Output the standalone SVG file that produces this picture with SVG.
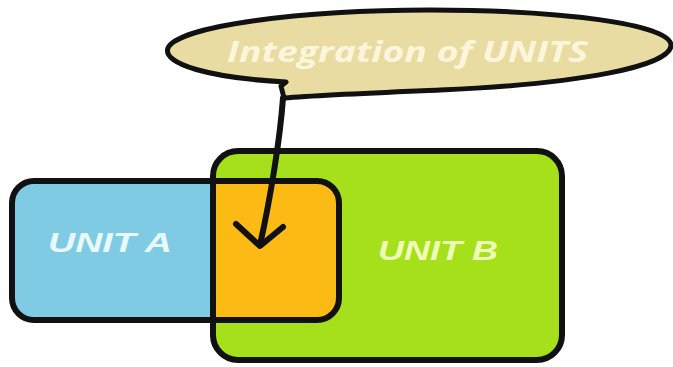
<svg xmlns="http://www.w3.org/2000/svg" width="673" height="367" viewBox="0 0 673 367">
<style>
.outline{fill:none;stroke:#111;stroke-width:6;stroke-linejoin:round}
.lbl{font-family:"Liberation Sans",Arial,sans-serif;font-weight:bold;font-style:italic;font-size:28px}
.conn{fill:none;stroke:#111;stroke-width:6;stroke-linecap:round;stroke-linejoin:round}
</style>
<defs>
<clipPath id="clipB"><rect x="213" y="151" width="349" height="209" rx="25"/></clipPath>
</defs>
<rect width="673" height="367" fill="#fff"/>
<g id="unitA">
<rect x="12" y="181" width="327" height="139" rx="22" fill="#7ecbe3"/>
</g>
<g id="unitB">
<rect x="213" y="151" width="349" height="209" rx="25" fill="#a6e01a"/>
</g>
<g id="overlap">
<rect x="12" y="181" width="327" height="139" rx="22" fill="#fbbb14" clip-path="url(#clipB)"/>
</g>
<g id="outlines">
<rect class="outline" x="12" y="181" width="327" height="139" rx="22"/>
<rect class="outline" x="213" y="151" width="349" height="209" rx="25"/>
<text class="lbl" x="48" y="252" fill="#e9f8fc" textLength="124" lengthAdjust="spacingAndGlyphs">UNIT A</text>
<text class="lbl" x="378" y="260" fill="#effcb8" textLength="120" lengthAdjust="spacingAndGlyphs">UNIT B</text>
</g>
<g id="callout">
<path d="M 286 82 C 210 78 162 64 168 48 C 178 26 300 10 430 10 C 560 10 670 24 671 45 C 672 66 580 84 440 90 C 370 93 320 95 284 98 L 281 86 Z" fill="#e8dca2" stroke="#111" stroke-width="5" stroke-linejoin="round"/>
<text x="227" y="62" font-family="'Open Sans',sans-serif" font-weight="bold" font-style="italic" font-size="28" fill="#fdf6dc" textLength="361" lengthAdjust="spacingAndGlyphs">Integration of UNITS</text>
</g>
<g id="connectors">
<path class="conn" d="M 283 98 C 280 140 270 200 260 245"/>
<path class="conn" d="M 236 224 L 260 246 L 283 227"/>
</g>
</svg>
